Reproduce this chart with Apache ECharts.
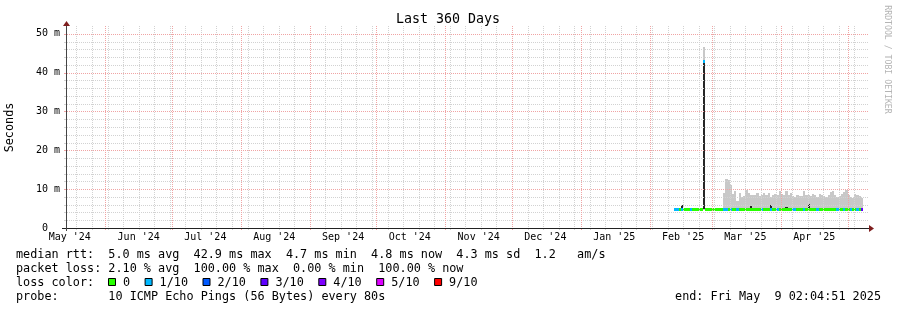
<!DOCTYPE html>
<html><head><meta charset="utf-8">
<script src="https://cdn.jsdelivr.net/npm/echarts@6/dist/echarts.min.js"></script>
<style>html,body{margin:0;padding:0;background:#fff}#c{width:897px;height:310px}</style>
</head><body><div id="c"></div>
<script>
const DAY = 86400000;
// ---- data ----
const firstDay = '2025-02-12';           // first daily bin, one value per day after it
const medianMs = [
  4.9,4.9,4.8,4.9,4.9,4.9,4.9,4.8,4.9,4.9,
  4.9,4.9,4.9,43.0,4.9,4.9,4.9,4.9,4.9,4.9,
  4.9,4.9,4.9,4.9,5.0,4.9,4.9,4.9,4.9,4.9,
  4.9,4.9,4.9,4.9,4.9,4.9,4.9,4.9,4.9,4.9,
  4.9,4.9,4.9,4.9,4.9,4.9,4.9,4.9,4.9,4.9,
  4.9,4.9,4.9,4.9,4.9,4.9,4.9,4.9,4.9,4.9,
  4.9,4.9,4.9,4.9,4.9,4.9,4.9,4.9,4.9,4.9,
  4.9,4.9,4.9,4.9,4.9,4.9,4.9,4.9,4.9,4.9,
  4.9,4.9,4.9,4.9,4.8];
const lossIdx = [
  1,1,0,1,0,0,0,1,0,0,
  0,0,0,1,0,0,0,0,0,0,
  0,0,1,1,0,1,0,0,1,0,
  0,0,0,0,0,0,0,0,0,1,
  0,0,0,1,0,0,1,0,0,0,
  0,0,0,1,1,0,0,0,1,0,
  0,0,0,0,1,0,0,0,0,0,
  0,0,0,1,0,0,1,0,0,1,
  0,0,1,0,3];
const smokeMaxMs = [
  null,null,null,null,null,null,null,null,null,null,
  null,null,null,46.6,null,null,null,null,null,null,
  null,null,9.1,12.6,12.4,11.1,8.7,9.4,7.0,8.9,
  8.0,8.2,9.8,8.9,8.5,8.4,8.6,9.1,8.2,8.5,
  8.9,8.4,9.1,8.1,8.6,8.8,8.4,9.6,8.7,8.5,
  9.4,8.4,8.9,8.3,8.1,8.6,8.2,8.3,9.6,8.4,
  8.5,8.2,8.7,8.5,8.0,8.8,8.4,8.2,7.9,8.6,
  9.2,9.5,8.4,8.1,8.3,8.7,9.2,9.8,8.5,8.0,
  7.8,8.8,8.4,8.2,7.7];
const denseSmokeDays = ['2025-02-15','2025-02-25','2025-03-18','2025-03-27','2025-04-03','2025-04-13'];
const denseSmokeMs   = [6.0, 43.0, 5.6, 5.8, 5.5, 6.1];
const lossLabels = ['0','1/10','2/10','3/10','4/10','5/10','9/10'];
const lossColors = ['#26ff00','#00b8ff','#0059ff','#5e00ff','#7e00ff','#dd00ff','#ff0000'];
const monthStarts = ['2024-06-01','2024-07-01','2024-08-01','2024-09-01','2024-10-01','2024-11-01',
                     '2024-12-01','2025-01-01','2025-02-01','2025-03-01','2025-04-01','2025-05-01'];
const monthLabelDays = ['2024-05-16','2024-06-16','2024-07-16','2024-08-16','2024-09-16','2024-10-16',
                        '2024-11-16','2024-12-16','2025-01-16','2025-02-16','2025-03-16','2025-04-16'];
const monthLabels = ["May '24","Jun '24","Jul '24","Aug '24","Sep '24","Oct '24",
                     "Nov '24","Dec '24","Jan '25","Feb '25","Mar '25","Apr '25"];
const firstWeekLine = '2024-05-19';
const yTicksMs = [0,10,20,30,40,50];
const legendLines = [
  'median rtt:  5.0 ms avg  42.9 ms max  4.7 ms min  4.8 ms now  4.3 ms sd  1.2   am/s',
  'packet loss: 2.10 % avg  100.00 % max  0.00 % min  100.00 % now'
];
const lossTitle = 'loss color:';
const probeText = 'probe:       10 ICMP Echo Pings (56 Bytes) every 80s';
const endText = 'end: Fri May  9 02:04:51 2025';
const titleText = 'Last 360 Days';
const yName = 'Seconds';
const watermark = 'RRDTOOL / TOBI OETIKER';

// ---- helpers ----
const utc = s => { const [y,m,d] = s.split('-').map(Number); return Date.UTC(y, m-1, d); };
const X_MIN = Date.UTC(2024, 4, 14, 18);
const X_MAX = X_MIN + 360 * DAY;
const Y_MAX = 52;
const SMOKE_FLOOR = 4.7;
const MONO = '"DejaVu Sans Mono", "Liberation Mono", monospace';

const day0 = utc(firstDay) + DAY / 2;
const binTime = i => day0 + i * DAY;
const smokeData = [], medianData = [], denseData = [];
medianMs.forEach((m, i) => {
  medianData.push([binTime(i), m, lossIdx[i]]);
  if (smokeMaxMs[i] != null) smokeData.push([binTime(i), SMOKE_FLOOR, smokeMaxMs[i]]);
});
denseSmokeDays.forEach((d, k) => {
  const i = Math.round((utc(d) - utc(firstDay)) / DAY);
  denseData.push([binTime(i), medianMs[i] === denseSmokeMs[k] ? 4.9 : medianMs[i], denseSmokeMs[k]]);
});
const weekLines = [];
for (let t = utc(firstWeekLine); t < X_MAX; t += 7 * DAY) weekLines.push([t]);
const minorY = [];
for (let v = 2; v <= 50; v += 2) if (v % 10) minorY.push([X_MIN, v]);
const majorY = yTicksMs.filter(v => v > 0).map(v => [X_MIN, v]);

function rectLayer(fill) {
  return (params, api) => {
    const t = api.value(0), lo = api.value(1), hi = api.value(2);
    const a = api.coord([t - DAY / 2, hi]), b = api.coord([t + DAY / 2, lo]);
    const x0 = Math.round(a[0]), x1 = Math.round(b[0]);
    const y0 = Math.round(a[1]), y1 = Math.round(b[1]);
    return { type: 'rect', shape: { x: x0, y: y0, width: Math.max(1, x1 - x0), height: Math.max(1, y1 - y0) },
             style: { fill } };
  };
}
const GRID_MINOR = '#d2d2d2';
const GRID_MAJOR = '#f0a4a4';
function vLine(color) {
  return (params, api) => {
    const a = api.coord([api.value(0), 0]), b = api.coord([api.value(0), Y_MAX]);
    const x = Math.round(a[0]) + 0.5;
    return { type: 'group', children: [
      { type: 'line', shape: { x1: x, y1: Math.round(b[1]), x2: x, y2: Math.round(a[1]) },
        style: { stroke: color, lineWidth: 1, lineDash: [1, 1] } },
      { type: 'line', shape: { x1: x, y1: Math.round(a[1]), x2: x, y2: Math.round(a[1]) + 2 },
        style: { stroke: color, lineWidth: 1 } }
    ]};
  };
}
function hLine(color) {
  return (params, api) => {
    const a = api.coord([X_MIN, api.value(1)]), b = api.coord([X_MAX, api.value(1)]);
    const y = Math.round(a[1]) + 0.5;
    return { type: 'group', children: [
      { type: 'line', shape: { x1: Math.round(a[0]), y1: y, x2: Math.round(b[0]) + 1, y2: y },
        style: { stroke: color, lineWidth: 1, lineDash: [1, 1] } },
      { type: 'line', shape: { x1: Math.round(a[0]) - 3, y1: y, x2: Math.round(a[0]), y2: y },
        style: { stroke: color, lineWidth: 1 } }
    ]};
  };
}

// legend graphics
const graphic = [
  { type: 'text', x: 448, y: 19.5, style: { text: titleText, font: '13.3px ' + MONO, fill: '#000', align: 'center', verticalAlign: 'middle' } },
  { type: 'text', x: 9.5, y: 127.5, rotation: Math.PI / 2, style: { text: yName, font: '11.8px ' + MONO, fill: '#000', align: 'center', verticalAlign: 'middle' } },
  { type: 'text', x: 887, y: 59.5, rotation: -Math.PI / 2, style: { text: watermark, font: '8.2px ' + MONO, fill: '#b4b4b4', align: 'center', verticalAlign: 'middle' } },
  // axes with arrows
  { type: 'line', shape: { x1: 62, y1: 228.5, x2: 869, y2: 228.5 }, style: { stroke: '#222', lineWidth: 1 }, z: 20 },
  { type: 'line', shape: { x1: 66.5, y1: 231, x2: 66.5, y2: 25 }, style: { stroke: '#444', lineWidth: 1 }, z: 20 },
  { type: 'polygon', shape: { points: [[869, 225], [869, 232], [874, 228.5]] }, style: { fill: '#7f1f1f' }, z: 20 },
  { type: 'polygon', shape: { points: [[63, 26], [70, 26], [66.5, 21]] }, style: { fill: '#7f1f1f' }, z: 20 }
];
const TXT = '11.8px ' + MONO;
legendLines.forEach((s, k) => graphic.push({ type: 'text', x: 16, y: 254.5 + 14 * k,
  style: { text: s, font: TXT, fill: '#000', align: 'left', verticalAlign: 'middle' } }));
graphic.push({ type: 'text', x: 16, y: 282.5, style: { text: lossTitle, font: TXT, fill: '#000', verticalAlign: 'middle' } });
let cx = 108;
lossLabels.forEach((lab, k) => {
  graphic.push({ type: 'rect', shape: { x: cx + 0.5, y: 278.5, width: 7, height: 7 },
    style: { fill: lossColors[k], stroke: '#000', lineWidth: 1 } });
  graphic.push({ type: 'text', x: cx + 15, y: 282.5, style: { text: lab, font: TXT, fill: '#000', verticalAlign: 'middle' } });
  cx = cx + 15 + lab.length * 7.1 + 14.5;
});
graphic.push({ type: 'text', x: 16, y: 296.5, style: { text: probeText, font: TXT, fill: '#000', verticalAlign: 'middle' } });
graphic.push({ type: 'text', x: 881, y: 296.5, style: { text: endText, font: TXT, fill: '#000', align: 'right', verticalAlign: 'middle' } });

const chart = echarts.init(document.getElementById('c'), null, { renderer: 'canvas' });
chart.setOption({
  animation: false,
  backgroundColor: '#fff',
  grid: { left: 67, top: 26, width: 800, height: 202, containLabel: false, outerBoundsMode: 'none' },
  xAxis: { type: 'time', min: X_MIN, max: X_MAX, axisLine: { show: false }, axisTick: { show: false },
           axisLabel: { show: false }, splitLine: { show: false } },
  yAxis: { type: 'value', min: 0, max: Y_MAX, interval: 10, axisLine: { show: false }, axisTick: { show: false },
           splitLine: { show: false },
           axisLabel: { margin: 7, fontFamily: MONO, fontSize: 10, color: '#000',
             formatter: v => v === 0 ? '0  ' : (yTicksMs.includes(v) ? v + ' m' : '') } },
  graphic,
  series: [
    { type: 'custom', name: 'smoke', z: 1, silent: true, data: smokeData, encode: { x: 0, y: [1, 2] }, renderItem: rectLayer('#c8c8c8') },
    { type: 'custom', name: 'dense', z: 2, silent: true, data: denseData, encode: { x: 0, y: [1, 2] }, renderItem: rectLayer('#262626') },
    { type: 'custom', name: 'median', z: 3, silent: true, data: medianData, encode: { x: 0, y: 1 },
      renderItem: (params, api) => {
        const t = api.value(0), m = api.value(1), li = api.value(2);
        const a = api.coord([t - DAY / 2, m]), b = api.coord([t + DAY / 2, m]);
        const x0 = Math.round(a[0]), x1 = Math.round(b[0]), yc = Math.round(a[1]);
        return { type: 'rect', shape: { x: x0, y: yc - 1, width: Math.max(1, x1 - x0), height: 3 }, style: { fill: lossColors[li] } };
      } },
    { type: 'custom', z: 4, silent: true, data: minorY, encode: { x: 0, y: 1 }, renderItem: hLine(GRID_MINOR) },
    { type: 'custom', z: 4, silent: true, data: weekLines, encode: { x: 0 }, renderItem: vLine(GRID_MINOR) },
    { type: 'custom', z: 5, silent: true, data: majorY, encode: { x: 0, y: 1 }, renderItem: hLine(GRID_MAJOR) },
    { type: 'custom', z: 5, silent: true, data: monthStarts.map(s => [utc(s)]), encode: { x: 0 }, renderItem: vLine(GRID_MAJOR) },
    { type: 'custom', z: 6, silent: true, data: monthLabelDays.map(s => [utc(s)]), encode: { x: 0 },
      renderItem: (params, api) => {
        const a = api.coord([api.value(0), 0]);
        return { type: 'text', x: a[0], y: a[1] + 9.5,
          style: { text: monthLabels[params.dataIndex], font: '10px ' + MONO, fill: '#000', align: 'center', verticalAlign: 'middle' } };
      } }
  ]
});
</script></body></html>
